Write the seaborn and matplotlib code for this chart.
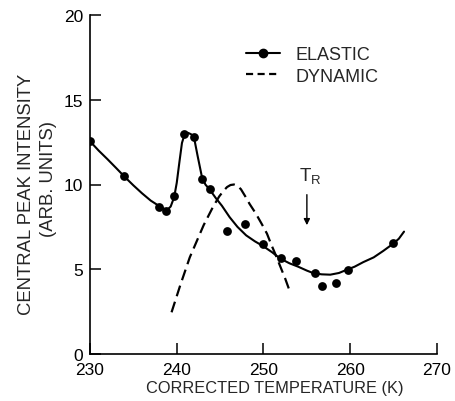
import matplotlib
matplotlib.use("Agg")
import matplotlib.pyplot as plt
import seaborn as sns
import pandas as pd
from matplotlib.lines import Line2D

# Measured central-peak intensities (elastic scans)
elastic_temp = [230.0, 233.9, 238.0, 238.8, 239.7, 240.8, 242.0, 242.9, 243.8,
                245.8, 247.9, 250.0, 252.0, 253.8, 255.9, 256.8, 258.3, 259.7, 264.9]
elastic_int = [12.55, 10.5, 8.7, 8.45, 9.3, 12.95, 12.8, 10.35, 9.75,
               7.25, 7.65, 6.5, 5.65, 5.5, 4.78, 4.0, 4.2, 4.98, 6.52]

# Hand-drawn guide through the elastic data
guide_temp = [230, 231, 232, 233, 234, 235, 236, 237, 238, 238.5, 238.9, 239.3,
              239.7, 240.0, 240.3, 240.6, 240.9, 241.3, 241.7, 242.0, 242.4,
              242.9, 243.3, 243.8, 244.5, 245.2, 246.1, 247, 248, 249, 250, 251,
              251.9, 253, 254, 255, 255.7, 256.7, 257.7, 258.7, 259.6, 260.5,
              261.5, 262.7, 263.8, 264.9, 265.6, 266.2]
guide_int = [12.55, 12.0, 11.5, 10.98, 10.45, 9.95, 9.48, 9.05, 8.72, 8.58, 8.5,
             8.7, 9.25, 10.1, 11.3, 12.45, 12.95, 13.05, 12.95, 12.75, 11.7,
             10.45, 10.0, 9.7, 9.2, 8.75, 8.07, 7.5, 7.0, 6.65, 6.35, 6.0,
             5.64, 5.35, 5.15, 4.92, 4.78, 4.7, 4.68, 4.78, 4.97, 5.15,
             5.42, 5.7, 6.08, 6.49, 6.8, 7.22]

# Dynamic central-peak contribution
dyn_temp = [239.4, 240.4, 241.5, 242.3, 243.1, 244.2, 244.9, 245.4, 245.8, 246.2,
            246.6, 247.0, 247.4, 247.9, 248.4, 249.1, 249.8, 250.4, 250.9, 251.4,
            251.9, 252.5, 253.1]
dyn_int = [2.46, 4.05, 5.7, 6.65, 7.6, 8.7, 9.3, 9.63, 9.85, 9.97,
           10.0, 9.92, 9.72, 9.3, 8.85, 8.3, 7.67, 7.1, 6.45, 5.85,
           5.21, 4.45, 3.6]

x_ticks = [230, 240, 250, 260, 270]
y_ticks = [0, 5, 10, 15, 20]
T_R = 255

sns.set_style("ticks")
plt.rcParams["font.family"] = ["Liberation Sans", "DejaVu Sans"]
plt.rcParams["mathtext.fontset"] = "custom"
plt.rcParams["mathtext.rm"] = "Liberation Sans"

fig = plt.figure(figsize=(4.55, 4.02), dpi=100)
ax = fig.add_axes([90 / 455, 1 - 355 / 402, 347 / 455, 339 / 402])

pts = pd.DataFrame({"T": elastic_temp, "I": elastic_int})
guide = pd.DataFrame({"T": guide_temp, "I": guide_int})
dyn = pd.DataFrame({"T": dyn_temp, "I": dyn_int})

sns.lineplot(data=guide, x="T", y="I", ax=ax, color="black", lw=1.5,
             sort=False, estimator=None)
sns.scatterplot(data=pts, x="T", y="I", ax=ax, color="black", s=40,
                edgecolor="black", linewidth=0, zorder=3)
sns.lineplot(data=dyn, x="T", y="I", ax=ax, color="black", lw=1.6,
             sort=False, estimator=None)
ax.lines[-1].set_dashes((5, 2.6))

ax.set_xlim(230, 270)
ax.set_ylim(0, 20)
ax.set_xticks(x_ticks)
ax.set_yticks(y_ticks)
ax.set_xticklabels([str(t) for t in x_ticks])
ax.set_yticklabels([str(t) for t in y_ticks])
ax.tick_params(direction="in", length=8, width=1.1, labelsize=12.5,
               colors="black")
ax.tick_params(axis="y", pad=5)
ax.tick_params(axis="x", pad=6)
for s in ["top", "right"]:
    ax.spines[s].set_visible(False)
for s in ["left", "bottom"]:
    ax.spines[s].set_linewidth(1.2)
    ax.spines[s].set_color("black")

ax.set_xlabel("")
ax.set_ylabel("")
ax.text(0.533, -0.112, "CORRECTED TEMPERATURE (K)", transform=ax.transAxes,
        ha="center", va="baseline", fontsize=11.8)
ax.text(-0.184, 0.475, "CENTRAL PEAK INTENSITY", transform=ax.transAxes,
        rotation=90, ha="center", va="center", fontsize=13.3)
ax.text(-0.121, 0.518, "(ARB. UNITS)", transform=ax.transAxes,
        rotation=90, ha="center", va="center", fontsize=13.3)

# T_R marker
ax.annotate("", xy=(T_R, 7.6), xytext=(T_R, 9.4),
            arrowprops=dict(arrowstyle="-|>", color="black", lw=1.0,
                            mutation_scale=9, shrinkA=0, shrinkB=0))
ax.text(T_R + 0.4, 9.9, r"$\mathrm{T}_\mathrm{R}$", ha="center", va="bottom",
        fontsize=13.5)

handles = [
    Line2D([], [], color="black", lw=1.5, marker="o", markersize=6),
    Line2D([], [], color="black", lw=1.6, dashes=(3.2, 2.0)),
]
leg = ax.legend(handles, ["ELASTIC", "DYNAMIC"], loc="upper left",
                bbox_to_anchor=(0.45, 0.908), frameon=False, fontsize=13,
                handlelength=1.9, handletextpad=0.85, labelspacing=0.25,
                borderpad=0, borderaxespad=0, numpoints=1)

fig.savefig("out.png", dpi=100)
